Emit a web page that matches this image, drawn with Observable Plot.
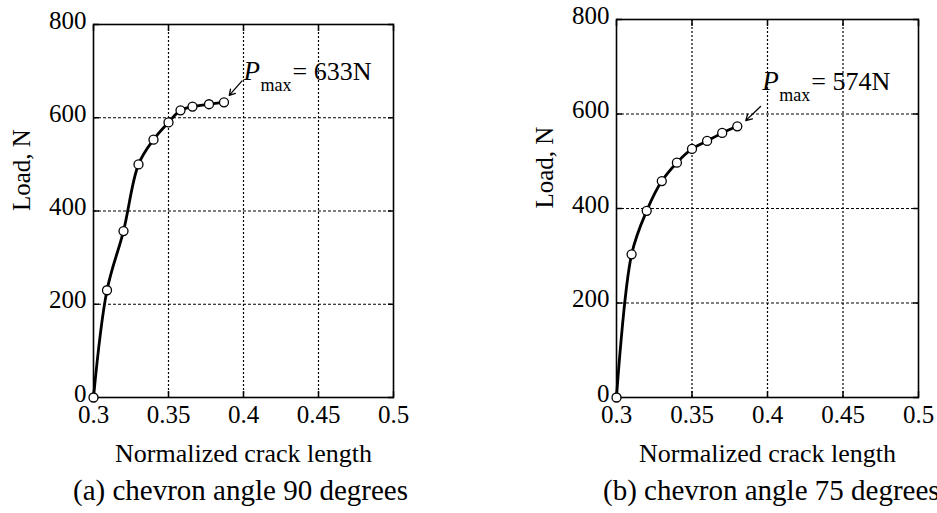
<!DOCTYPE html>
<html>
<head>
<meta charset="utf-8">
<script src="https://cdn.jsdelivr.net/npm/d3@7"></script>
<script src="https://cdn.jsdelivr.net/npm/@observablehq/plot@0.6"></script>
<style>
  body { margin: 0; background: #fff; }
  #wrap { position: relative; width: 937px; height: 513px; overflow: hidden; font-family: "Liberation Serif", "Times New Roman", serif; color: #000; }
  #wrap svg text { font-family: "Liberation Serif", "Times New Roman", serif; }
  .panel { position: absolute; top: 0; }
  .cap { position: absolute; top: 475px; font-size: 29px; line-height: 30px; white-space: nowrap; }
</style>
</head>
<body>
<div id="wrap"></div>
<script>
// ---- data ----
const xTicks = [0.3, 0.35, 0.4, 0.45, 0.5];
const xTickLabels = ["0.3", "0.35", "0.4", "0.45", "0.5"];
const yTicks = [0, 200, 400, 600, 800];
const yTickLabels = ["0", "200", "400", "600", "800"];

// (a) chevron angle 90 degrees
const crackA = [0.3, 0.309, 0.32, 0.33, 0.34, 0.35, 0.358, 0.366, 0.377, 0.387];
const loadA  = [0, 230, 357, 500, 553, 590, 616, 624, 629, 633];
// (b) chevron angle 75 degrees
const crackB = [0.3, 0.31, 0.32, 0.33, 0.34, 0.35, 0.36, 0.37, 0.38];
const loadB  = [0, 303, 395, 458, 497, 526, 543, 560, 574];

const captions = ["(a) chevron angle 90 degrees", "(b) chevron angle 75 degrees"];
const pmaxLabels = ["= 633N", "= 574N"];
const xLabel = "Normalized crack length";
const yLabel = "Load, N";

// annotation anchors (data coordinates)
const annTextA = {x: 0.4, y: 682};
const annTextB = {x: 0.3965, y: 651};
const annArrowA = {x1: 0.399, y1: 679, x2: 0.3905, y2: 648};
const annArrowB = {x1: 0.3954, y1: 616, x2: 0.3856, y2: 586};

const FONT = '"Liberation Serif", "Times New Roman", serif';

function makePanel(crack, load, pmax, annText, annArrow, layout) {
  const data = crack.map((c, i) => ({c, l: load[i]}));
  const fmtX = d => xTickLabels[xTicks.indexOf(d)];
  const fmtY = d => yTickLabels[yTicks.indexOf(d)];
  const blank = () => "";
  return Plot.plot({
    width: layout.width,
    height: 475,
    marginLeft: layout.marginLeft,
    marginRight: layout.marginRight,
    marginTop: layout.marginTop,
    marginBottom: 78,
    style: {fontFamily: FONT, fontSize: "25px", color: "#000", background: "transparent", overflow: "visible"},
    x: {domain: [0.3, 0.5], axis: null},
    y: {domain: [0, 800], axis: null},
    marks: [
      Plot.ruleX(xTicks.slice(1, -1), {x: d => d, stroke: "#000", strokeWidth: 1.2, strokeDasharray: "2,2"}),
      Plot.ruleY(yTicks.slice(1, -1), {y: d => d, stroke: "#000", strokeWidth: 1.1, strokeDasharray: "3,2"}),
      Plot.frame({stroke: "#000", strokeWidth: 1.6}),
      // inward ticks
      Plot.axisX({ticks: xTicks, anchor: "bottom", tickSize: -6, tickFormat: blank, label: null, strokeWidth: 1.5}),
      Plot.axisX({ticks: xTicks, anchor: "top", tickSize: -6, tickFormat: blank, label: null, strokeWidth: 1.5}),
      Plot.axisY({ticks: yTicks, anchor: "left", tickSize: -6, tickFormat: blank, label: null, strokeWidth: 1.5}),
      Plot.axisY({ticks: yTicks, anchor: "right", tickSize: -6, tickFormat: blank, label: null, strokeWidth: 1.5}),
      // tick labels
      Plot.text(xTicks, {x: d => d, text: fmtX, frameAnchor: "bottom", lineAnchor: "top", dy: 8, fontSize: 25}),
      Plot.text(yTicks, {y: d => d, text: fmtY, frameAnchor: "left", textAnchor: "end", dx: -7, dy: -4, fontSize: 25}),
      // axis titles
      Plot.text([xLabel], {text: d => d, frameAnchor: "bottom", lineAnchor: "bottom", dy: 64, fontSize: 26}),
      Plot.text([yLabel], {text: d => d, frameAnchor: "left", rotate: -90, dx: -72, fontSize: 25}),
      // curve + markers
      Plot.line(data, {x: "c", y: "l", curve: "catmull-rom", stroke: "#000", strokeWidth: 2.8}),
      Plot.dot(data, {x: "c", y: "l", r: 4.5, fill: "#fff", stroke: "#000", strokeWidth: 1.3}),
      // Pmax annotation
      Plot.arrow([annArrow], {x1: "x1", y1: "y1", x2: "x2", y2: "y2", stroke: "#000", strokeWidth: 1.3, headLength: 10}),
      Plot.text([annText], {x: "x", y: "y", text: () => "P", fontStyle: "italic", fontSize: 27, textAnchor: "start", lineAnchor: "bottom"}),
      Plot.text([annText], {x: "x", y: "y", text: () => "max", fontSize: 18, textAnchor: "start", lineAnchor: "bottom", dx: 17, dy: 11}),
      Plot.text([annText], {x: "x", y: "y", text: () => pmax, fontSize: 26, textAnchor: "start", lineAnchor: "bottom", dx: 49})
    ]
  });
}

const wrap = document.getElementById("wrap");

const pA = makePanel(crackA, loadA, pmaxLabels[0], annTextA, annArrowA, {width: 470, marginLeft: 93, marginRight: 77, marginTop: 24});
const dA = document.createElement("div"); dA.className = "panel"; dA.style.left = "0px"; dA.appendChild(pA); wrap.appendChild(dA);

const pB = makePanel(crackB, loadB, pmaxLabels[1], annTextB, annArrowB, {width: 467, marginLeft: 146, marginRight: 19, marginTop: 19});
const dB = document.createElement("div"); dB.className = "panel"; dB.style.left = "470px"; dB.appendChild(pB); wrap.appendChild(dB);

const cA = document.createElement("div"); cA.className = "cap"; cA.style.left = "73px"; cA.textContent = captions[0]; wrap.appendChild(cA);
const cB = document.createElement("div"); cB.className = "cap"; cB.style.left = "603px"; cB.textContent = captions[1]; wrap.appendChild(cB);
</script>
</body>
</html>
